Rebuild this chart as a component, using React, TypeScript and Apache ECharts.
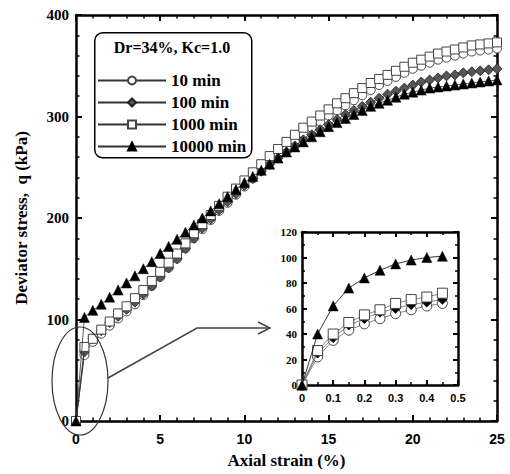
import React, { useEffect, useRef } from "react";
import * as echarts from "echarts";

const seriesNames = ["10 min", "100 min", "1000 min", "10000 min"];

const strainMain = [0, 0.5, 1, 1.5, 2, 2.5, 3, 3.5, 4, 4.5, 5, 5.5, 6, 6.5, 7, 7.5, 8, 8.5, 9, 9.5, 10, 10.5, 11, 11.5, 12, 12.5, 13, 13.5, 14, 14.5, 15, 15.5, 16, 16.5, 17, 17.5, 18, 18.5, 19, 19.5, 20, 20.5, 21, 21.5, 22, 22.5, 23, 23.5, 24, 24.5, 25];
const q10 = [0, 65, 78, 86, 94, 101, 108, 115, 124, 133, 142, 151, 160, 170, 180, 189, 198, 207, 215, 223, 231, 239, 247, 255, 262, 269, 276, 283, 289, 295, 301, 306, 311, 316, 321, 326, 331, 335, 339, 343, 347, 350, 353, 356, 358, 360, 362, 364, 365, 366, 367];
const q100 = [0, 68, 81, 89, 97, 103, 110, 117, 125, 133, 142, 151, 160, 170, 180, 190, 199, 208, 216, 224, 232, 239, 246, 253, 259, 265, 271, 277, 282, 287, 292, 297, 302, 306, 310, 314, 318, 322, 325, 328, 331, 334, 336, 338, 340, 341, 343, 344, 345, 346, 347];
const q1000 = [0, 73, 81, 90, 98, 106, 113, 121, 129, 138, 147, 156, 165, 175, 185, 194, 203, 212, 221, 229, 237, 245, 253, 261, 268, 275, 282, 289, 295, 301, 307, 313, 318, 323, 328, 333, 337, 341, 345, 349, 353, 356, 359, 362, 364, 366, 368, 370, 371, 372, 373];
const q10000 = [0, 102, 109, 115, 122, 129, 136, 143, 150, 157, 165, 172, 179, 186, 193, 200, 207, 214, 221, 228, 235, 241, 247, 253, 259, 265, 270, 275, 280, 285, 290, 294, 298, 302, 306, 310, 313, 316, 319, 322, 324, 326, 328, 329, 330, 331, 332, 333, 334, 335, 336];

const strainInset = [0, 0.05, 0.1, 0.15, 0.2, 0.25, 0.3, 0.35, 0.4, 0.45];
const inset10 = [0, 22, 35, 43, 48, 52, 56, 59, 62, 64];
const inset100 = [0, 25, 37, 47, 52, 57, 60, 63, 65, 67];
const inset1000 = [0, 27, 40, 49, 55, 59, 64, 67, 69, 72];
const inset10000 = [0, 40, 62, 76, 84, 90, 95, 98, 100, 101];

const SERIF = "Liberation Serif, Times New Roman, serif";
const SANS = "Liberation Sans, Arial, sans-serif";

const pair = (xs: number[], ys: number[]) => xs.map((x, i) => [x, ys[i]]);

const styles: any[] = [
  { symbol: "circle", symbolSize: 9, itemStyle: { color: "#fff", borderColor: "#444", borderWidth: 1 } },
  { symbol: "diamond", symbolSize: 10, itemStyle: { color: "#555", borderColor: "#222", borderWidth: 0.8 } },
  { symbol: "rect", symbolSize: 9, itemStyle: { color: "#fff", borderColor: "#444", borderWidth: 1 } },
  { symbol: "triangle", symbolSize: 10, itemStyle: { color: "#000", borderColor: "#000", borderWidth: 0.5 } },
];

export default function App() {
  const ref = useRef<HTMLDivElement>(null);
  useEffect(() => {
    if (!ref.current) return;
    const chart = echarts.init(ref.current, null, { renderer: "svg" });
    const axisLine = { show: true, onZero: false, lineStyle: { color: "#000", width: 2.5 } };
    const mainData = [q10, q100, q1000, q10000];
    const insetData = [inset10, inset100, inset1000, inset10000];
    const series: any[] = [];
    seriesNames.forEach((name, i) => {
      series.push({
        name,
        type: "line",
        xAxisIndex: 0,
        yAxisIndex: 0,
        data: pair(strainMain, mainData[i]),
        ...styles[i],
        lineStyle: { color: "#333", width: 0.8 },
        z: 2 + i,
      });
    });
    seriesNames.forEach((name, i) => {
      const st = { ...styles[i] };
      if (i === 1) st.itemStyle = { color: "#000", borderColor: "#000", borderWidth: 0.5 };
      series.push({
        name,
        type: "line",
        xAxisIndex: 2,
        yAxisIndex: 2,
        data: pair(strainInset, insetData[i]),
        ...st,
        symbolSize: 10,
        lineStyle: { color: i === 3 ? "#000" : "#666", width: 0.8 },
        z: 2 + i,
      });
    });
    const option: any = {
      animation: false,
      backgroundColor: "#fff",
      grid: [
        { left: 76, right: 13, top: 15, bottom: 51, containLabel: false },
        { left: 302, top: 232, width: 156, height: 153, containLabel: false },
      ],
      legend: {
        data: seriesNames,
        orient: "vertical",
        left: 92,
        top: 67,
        itemWidth: 68,
        itemHeight: 10,
        itemGap: 5,
        textStyle: { fontFamily: SERIF, fontWeight: "bold", fontSize: 17, color: "#000" },
        selectedMode: false,
      },
      xAxis: [
        {
          gridIndex: 0, type: "value", min: 0, max: 25, interval: 5, position: "bottom",
          axisLine, splitLine: { show: false },
          axisTick: { inside: true, length: 6, lineStyle: { width: 2, color: "#000" } },
          minorTick: { show: true, splitNumber: 5, length: 3.5, lineStyle: { width: 1.5, color: "#000" } },
          axisLabel: { fontFamily: SANS, fontWeight: "bold", fontSize: 14, color: "#000", margin: 11 },
          name: "Axial strain (%)", nameLocation: "middle", nameGap: 31,
          nameTextStyle: { fontFamily: SERIF, fontWeight: "bold", fontSize: 17, color: "#000" },
        },
        {
          gridIndex: 0, type: "value", min: 0, max: 25, interval: 5, position: "top",
          axisLine, splitLine: { show: false }, axisLabel: { show: false },
          axisTick: { inside: true, length: 6, lineStyle: { width: 2, color: "#000" } },
          minorTick: { show: true, splitNumber: 5, length: 3.5, lineStyle: { width: 1.5, color: "#000" } },
        },
        {
          gridIndex: 1, type: "value", min: 0, max: 0.5, interval: 0.1, position: "bottom",
          axisLine, splitLine: { show: false },
          axisTick: { inside: true, length: 5, lineStyle: { width: 2, color: "#000" } },
          minorTick: { show: true, splitNumber: 2, length: 3, lineStyle: { width: 1.5, color: "#000" } },
          axisLabel: { fontFamily: SANS, fontWeight: "bold", fontSize: 11, color: "#000", margin: 7 },
        },
        {
          gridIndex: 1, type: "value", min: 0, max: 0.5, interval: 0.1, position: "top",
          axisLine, splitLine: { show: false }, axisLabel: { show: false },
          axisTick: { inside: true, length: 5, lineStyle: { width: 2, color: "#000" } },
          minorTick: { show: true, splitNumber: 2, length: 3, lineStyle: { width: 1.5, color: "#000" } },
        },
      ],
      yAxis: [
        {
          gridIndex: 0, type: "value", min: 0, max: 400, interval: 100, position: "left",
          axisLine, splitLine: { show: false },
          axisTick: { inside: true, length: 6, lineStyle: { width: 2, color: "#000" } },
          minorTick: { show: true, splitNumber: 5, length: 3.5, lineStyle: { width: 1.5, color: "#000" } },
          axisLabel: { fontFamily: SERIF, fontWeight: "bold", fontSize: 15, color: "#000", margin: 7 },
          name: "Deviator stress,  q (kPa)", nameLocation: "middle", nameGap: 46,
          nameTextStyle: { fontFamily: SERIF, fontWeight: "bold", fontSize: 17, color: "#000" },
        },
        {
          gridIndex: 0, type: "value", min: 0, max: 400, interval: 100, position: "right",
          axisLine, splitLine: { show: false }, axisLabel: { show: false },
          axisTick: { inside: true, length: 6, lineStyle: { width: 2, color: "#000" } },
          minorTick: { show: true, splitNumber: 5, length: 3.5, lineStyle: { width: 1.5, color: "#000" } },
        },
        {
          gridIndex: 1, type: "value", min: 0, max: 120, interval: 20, position: "left",
          axisLine, splitLine: { show: false },
          axisTick: { inside: true, length: 5, lineStyle: { width: 2, color: "#000" } },
          minorTick: { show: true, splitNumber: 2, length: 3, lineStyle: { width: 1.5, color: "#000" } },
          axisLabel: { fontFamily: SERIF, fontWeight: "bold", fontSize: 11, color: "#000", margin: 5 },
        },
        {
          gridIndex: 1, type: "value", min: 0, max: 120, interval: 20, position: "right",
          axisLine, splitLine: { show: false }, axisLabel: { show: false },
          axisTick: { inside: true, length: 5, lineStyle: { width: 2, color: "#000" } },
          minorTick: { show: true, splitNumber: 2, length: 3, lineStyle: { width: 1.5, color: "#000" } },
        },
      ],
      graphic: [
        {
          type: "rect", left: 94, top: 32, z: 1, silent: true,
          shape: { width: 157, height: 125, r: 8 },
          style: { fill: "#fff", stroke: "#000", lineWidth: 1.5 },
        },
        {
          type: "text", x: 172, y: 47, z: 10, silent: true,
          style: { text: "Dr=34%, Kc=1.0", fontFamily: SERIF, fontWeight: "bold", fontSize: 16, fill: "#000", align: "center", verticalAlign: "middle" },
        },
        {
          type: "ellipse", z: 10, silent: true,
          shape: { cx: 80, cy: 381, rx: 28, ry: 54 },
          style: { fill: "none", stroke: "#333", lineWidth: 1.2 },
        },
        {
          type: "polyline", z: 10, silent: true,
          shape: { points: [[108, 378], [197, 328], [268, 328]] },
          style: { fill: "none", stroke: "#444", lineWidth: 1.5 },
        },
        {
          type: "polyline", z: 10, silent: true,
          shape: { points: [[258, 322], [270, 328], [258, 334]] },
          style: { fill: "none", stroke: "#444", lineWidth: 1.5 },
        },
      ],
      series,
    };
    chart.setOption(option);
    return () => chart.dispose();
  }, []);
  return <div ref={ref} style={{ position: "fixed", left: 0, top: 0, width: 510, height: 474 }} />;
}
